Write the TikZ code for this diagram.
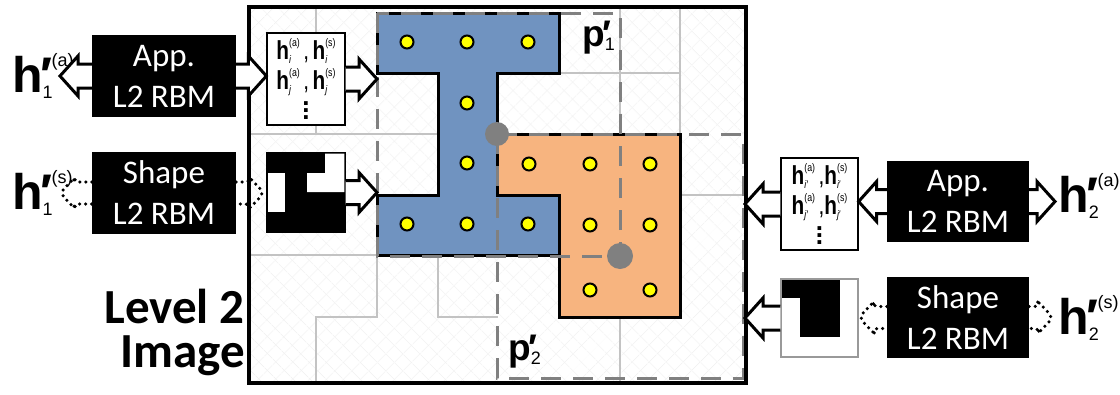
\documentclass[tikz,border=0pt]{standalone}
\usepackage{fontspec}
\usepackage{graphicx}
\setmainfont{Carlito}
\newfontfamily\arialf{Liberation Sans}
\usetikzlibrary{calc,patterns.meta}
\definecolor{shblue}{RGB}{112,147,192}
\definecolor{shorange}{RGB}{247,180,127}
\definecolor{spline}{RGB}{195,195,195}
\definecolor{dashgray}{RGB}{128,128,128}
\definecolor{hatch}{RGB}{242,242,242}
\definecolor{dotyellow}{RGB}{255,255,0}

\newdimen\supraise \newdimen\sublower \newdimen\scrwd
\newbox\supbx \newbox\subbx
\def\curmainsize{10}
% #1 main size, #2 script size, #3 sup, #4 sub, #5 letter
\newcommand{\symlbl}[5]{\begingroup\arialf
  \fontsize{#1}{#1}\selectfont\bfseries #5%
  \supraise=0.52em \sublower=0.13em
  \def\curmainsize{#1}%
  \fontsize{#2}{#2}\selectfont\mdseries
  \setbox\supbx\hbox{#3}\setbox\subbx\hbox{#4}%
  \ifdim\wd\supbx>\wd\subbx \scrwd=\wd\supbx \else \scrwd=\wd\subbx \fi
  \rlap{\raise\supraise\box\supbx}\rlap{\lower\sublower\box\subbx}\hskip\scrwd
  \endgroup}
\newcommand{\prm}{\kern-2pt\lower\supraise\hbox{\fontsize{\curmainsize}{\curmainsize}\selectfont\bfseries ′}\kern-1pt}
\newcommand{\vdotsb}{\vbox{\baselineskip=7pt\lineskiplimit=-20pt\hbox{\bfseries .}\hbox{\bfseries .}\hbox{\bfseries .}}}

% hollow block arrow (horizontal): tail node point, tip point
\newcommand{\blockarrow}[2]{%
  \filldraw[fill=white,draw=black,line width=3pt,line join=miter]
   let \p1=(#1), \p2=(#2), \n1={ifthenelse(\x2>\x1,1,-1)} in
   (\x1,\y1+12pt) -- (\x2-\n1*18pt,\y1+12pt) -- (\x2-\n1*18pt,\y1+20pt) -- (\x2,\y1)
   -- (\x2-\n1*18pt,\y1-20pt) -- (\x2-\n1*18pt,\y1-12pt) -- (\x1,\y1-12pt);}
% dotted rounded connector
\newcommand{\dotconn}[2]{%
  \draw[dash pattern=on 0pt off 6pt,line cap=round,line width=3.5pt,rounded corners=5pt]
   let \p1=(#1), \p2=(#2), \n1={ifthenelse(\x2>\x1,1,-1)} in
   (\x1,\y1+11pt) -- (\x2-\n1*13pt,\y1+11pt) -- (\x2-\n1*16pt,\y1+17pt) -- (\x2,\y1)
   -- (\x2-\n1*16pt,\y1-17pt) -- (\x2-\n1*13pt,\y1-11pt) -- (\x1,\y1-11pt);}

\begin{document}
\begin{tikzpicture}[x=1pt,y=-1pt,
  spl/.style={draw=spline,line width=1.5pt},
  shapeborder/.style={draw=black,line width=3pt,line join=miter},
  pdash/.style={draw=dashgray,line width=3pt,dash pattern=on 20pt off 12pt},
  ydot/.style={fill=dotyellow,draw=black,line width=2pt},
  rbm/.style={fill=black,text=white,minimum width=144,minimum height=82,inner sep=0pt,
    align=center,font=\fontsize{33}{41}\selectfont},
  txtbox/.style={draw=black,fill=white,line width=1.2pt,minimum width=78,minimum height=92,
    inner sep=0pt,align=center,font=\arialf\fontsize{26}{30}\selectfont},
  lbl/.style={inner sep=0pt,anchor=base west}]
\useasboundingbox (0,0) rectangle (1120,394);
\fill[white] (0,0) rectangle (1120,394);

% image background
\fill[pattern={Lines[angle=45,distance=13pt,line width=0.7pt]},pattern color=hatch] (249,7) rectangle (746,383);
\fill[pattern={Lines[angle=-45,distance=13pt,line width=0.7pt]},pattern color=hatch] (249,7) rectangle (746,383);

% superpixel boundaries
\draw[spl] (316,7) -- (316,134);
\draw[spl] (249,134) -- (438,134);
\draw[spl] (249,255) -- (377,255);
\draw[spl] (377,255) -- (377,317) -- (316,317) -- (316,383);
\draw[spl] (438,255) -- (438,317) -- (498,317);
\draw[spl] (560,73) -- (680,73);
\draw[spl] (680,7) -- (680,134);
\draw[spl] (620,7) -- (620,134);
\draw[spl] (680,195) -- (746,195);
\draw[spl] (620,317) -- (620,383);

% superpixel shapes
\path[shapeborder,fill=shblue] (377,13) -- (559,13) -- (559,73) -- (497,73) -- (497,195) -- (559,195)
  -- (559,255) -- (377,255) -- (377,195) -- (438,195) -- (438,73) -- (377,73) -- cycle;
\path[shapeborder,fill=shorange] (497,134) -- (680,134) -- (680,317) -- (559,317) -- (559,195)
  -- (497,195) -- cycle;

% patch boxes
\draw[pdash] (377,13) rectangle (620,256);
\draw[pdash] (497,134) rectangle (743,378);

% patch centres
\fill[dashgray] (497,134) circle[radius=12pt];
\fill[dashgray] (620,256) circle[radius=13pt];

% yellow dots
\foreach \xx/\yy in {407/42,467/42,528/42,467/103,467/163,407/224,467/224,528/224,
  529/164,590/164,650/164,590/225,650/225,590/290,650/290}
  \draw[ydot] (\xx,\yy) circle[radius=6.5pt];

% frame
\draw[line width=4pt] (249,7) rectangle (746,383);

% patch labels
\node[lbl] (p1) at (582,46) {\symlbl{37}{18}{\prm}{1}{p}};
\node[lbl] (p2) at (508,360) {\symlbl{37}{18}{\prm}{2}{p}};

% level label
\node[inner sep=0pt,anchor=north east,align=right,font=\fontsize{49}{44}\selectfont\bfseries]
  (lvl) at (245,289) {Level 2\\Image};

% left side
\node[lbl] (h1a) at (12,92) {\symlbl{50}{18}{\prm(a)}{1}{h}};
\node[lbl] (h1s) at (12,209) {\symlbl{50}{18}{\prm(s)}{1}{h}};
\node[rbm] (appL) at (164,76) {App.\\L2 RBM};
\node[rbm] (shapeL) at (164,193) {Shape\\L2 RBM};
\node[txtbox] (textL) at (306,79) {%
  \scalebox{0.8}[1]{\symlbl{26}{11}{(a)}{\textit{i}}{h}\,,\,\symlbl{26}{11}{(s)}{\textit{i}}{h}}\\
  \scalebox{0.8}[1]{\symlbl{26}{11}{(a)}{\textit{j}}{h}\,,\,\symlbl{26}{11}{(s)}{\textit{j}}{h}}\\
  \vdotsb};
\node[fill=black,draw=black,line width=1.2pt,minimum width=78,minimum height=79,inner sep=0pt]
  (maskL) at (306,192.5) {};
\fill[white] (325,153.6) -- (344.4,153.6) -- (344.4,192) -- (307,192) -- (307,173) -- (325,173) -- cycle;
\fill[white] (267.6,173) rectangle (285,212);

% right side
\node[lbl] (h2a) at (1058,212) {\symlbl{50}{18}{\prm(a)}{2}{h}};
\node[lbl] (h2s) at (1058,334) {\symlbl{50}{18}{\prm(s)}{2}{h}};
\node[rbm,minimum width=142,minimum height=81] (appR) at (958,201.5) {App.\\L2 RBM};
\node[rbm,minimum width=142,minimum height=81] (shapeR) at (958,317.5) {Shape\\L2 RBM};
\node[txtbox,minimum width=77] (textR) at (819.5,204) {%
  \scalebox{0.8}[1]{\symlbl{26}{11}{(a)}{\textit{i}′}{h}\,,\symlbl{26}{11}{(s)}{\textit{i}′}{h}}\\
  \scalebox{0.8}[1]{\symlbl{26}{11}{(a)}{\textit{j}′}{h}\,,\symlbl{26}{11}{(s)}{\textit{j}′}{h}}\\
  \vdotsb};
\node[fill=white,draw=black!40,line width=1.2pt,minimum width=77,minimum height=78,inner sep=0pt]
  (maskR) at (819.5,318) {};
\fill[black] (781.6,279.6) rectangle (840,298);
\fill[black] (800,279.6) rectangle (840,337);

% connector ends
\coordinate (tipH1a) at (60,76);
\coordinate (tipH1s) at (60,193);
\coordinate (tipMaskL) at (264,193);
\coordinate (tipBlueA) at (377,76);
\coordinate (tipBlueS) at (377,193);
\coordinate (tipFrA) at (745,204);
\coordinate (tipFrS) at (745,318);
\coordinate (tipH2a) at (1055,201.5);
\coordinate (tipH2s) at (1053,317.5);
\coordinate (tipMaskR) at (859,317.5);

% connectors
\blockarrow{appL.west}{tipH1a}
\blockarrow{appL.east}{textL.west}
\blockarrow{textL.east}{tipBlueA}
\blockarrow{maskL.east}{tipBlueS}
\dotconn{shapeL.west}{tipH1s}
\dotconn{shapeL.east}{tipMaskL}
\blockarrow{appR.west}{textR.east}
\blockarrow{textR.west}{tipFrA}
\blockarrow{appR.east}{tipH2a}
\blockarrow{maskR.west}{tipFrS}
\dotconn{shapeR.west}{tipMaskR}
\dotconn{shapeR.east}{tipH2s}
\end{tikzpicture}
\end{document}
